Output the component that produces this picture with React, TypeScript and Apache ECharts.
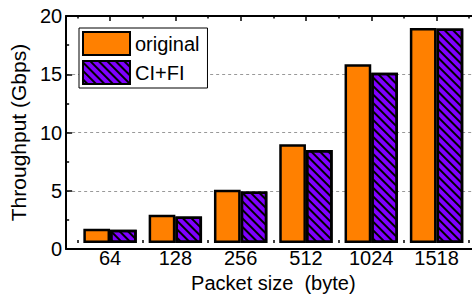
import React, { useEffect, useRef } from "react";
import * as echarts from "echarts";

const categories = ["64", "128", "256", "512", "1024", "1518"];
const originalValues = [1.27, 2.5, 4.7, 8.7, 15.75, 18.95];
const cifiValues = [1.18, 2.35, 4.55, 8.2, 15.0, 18.9];
const seriesNames = ["original", "CI+FI"];
const yTicks = { min: 0, max: 20, interval: 5 };

const FONT = "'Liberation Sans', Arial, sans-serif";

export default function App() {
  const ref = useRef<HTMLDivElement>(null);
  useEffect(() => {
    if (!ref.current) return;
    document.body.style.margin = "0";
    const chart = echarts.init(ref.current, null, { renderer: "svg" });
    const lineStyle = { color: "#000", width: 2 };
    const gridTop = 16;
    const gridBottom = 49;
    const option: any = {
      animation: false,
      textStyle: { fontFamily: FONT },
      grid: [
        { left: 65, right: -9.6, top: gridTop, bottom: gridBottom },
        { left: 77.4, right: 2.8, top: gridTop, bottom: gridBottom },
      ],
      xAxis: [
        {
          gridIndex: 0, type: "value", min: 0, max: 1, position: "bottom",
          axisLine: { show: true, lineStyle }, axisTick: { show: false },
          axisLabel: { show: false }, splitLine: { show: false },
        },
        {
          gridIndex: 0, type: "value", min: 0, max: 1, position: "top",
          axisLine: { show: true, lineStyle }, axisTick: { show: false },
          axisLabel: { show: false }, splitLine: { show: false },
        },
        {
          gridIndex: 1, type: "category", data: categories, position: "bottom",
          axisLine: { show: false },
          axisTick: { show: true, inside: true, length: 3, lineStyle: { color: "#000", width: 1.5 } },
          axisLabel: { fontSize: 20, color: "#000", margin: 5, fontFamily: FONT },
          name: "Packet size  (byte)", nameLocation: "middle", nameGap: 24,
          nameTextStyle: { fontSize: 20, color: "#000", fontFamily: FONT },
        },
        {
          gridIndex: 1, type: "category", data: categories, position: "top",
          axisLine: { show: false },
          axisTick: { show: true, inside: true, length: 5, alignWithLabel: true, lineStyle: { color: "#000", width: 1.5 } },
          axisLabel: { show: false },
        },
        {
          gridIndex: 1, type: "category", data: categories, position: "top",
          axisLine: { show: false },
          axisTick: { show: true, inside: true, length: 2.5, lineStyle: { color: "#000", width: 1.5 } },
          axisLabel: { show: false },
        },
      ],
      yAxis: [
        {
          gridIndex: 0, type: "value", min: yTicks.min, max: yTicks.max, interval: yTicks.interval,
          axisLine: { show: true, lineStyle },
          axisTick: { show: true, inside: true, length: 6, lineStyle: { color: "#000", width: 1.5 } },
          minorTick: { show: true, splitNumber: 2, length: 3, lineStyle: { color: "#000", width: 1.5 } },
          axisLabel: { fontSize: 20, color: "#000", margin: 4, fontFamily: FONT },
          splitLine: { show: true, lineStyle: { color: "#999", type: [3, 3], width: 1 } },
          name: "Throughput (Gbps)", nameLocation: "middle", nameGap: 35,
          nameTextStyle: { fontSize: 21, color: "#000", fontFamily: FONT },
        },
        {
          gridIndex: 1, type: "value", min: yTicks.min, max: yTicks.max, interval: yTicks.interval,
          show: false, splitLine: { show: false },
        },
      ],
      legend: {
        orient: "vertical", left: 79, top: 28,
        itemWidth: 47, itemHeight: 23, itemGap: 4,
        padding: [3, 8, 3, 3],
        borderColor: "#000", borderWidth: 1, backgroundColor: "#fff",
        icon: "rect",
        textStyle: { fontSize: 20, color: "#000", fontFamily: FONT },
        data: seriesNames,
        z: 10,
      },
      series: [
        {
          name: seriesNames[0], type: "bar", xAxisIndex: 2, yAxisIndex: 1,
          data: originalValues, barWidth: 26.7, barGap: "0%",
          itemStyle: { color: "#FF8000", borderColor: "#000", borderWidth: 2.5 },
        },
        {
          name: seriesNames[1], type: "bar", xAxisIndex: 2, yAxisIndex: 1,
          data: cifiValues, barWidth: 26.7, barGap: "0%",
          itemStyle: {
            color: "#8000FF", borderColor: "#000", borderWidth: 2.5,
            decal: {
              symbol: "rect", symbolSize: 1, color: "#000",
              dashArrayX: [1, 0], dashArrayY: [2, 3.7],
              rotation: Math.PI / 4,
            },
          },
        },
      ],
    };
    chart.setOption(option);
    return () => chart.dispose();
  }, []);
  return <div ref={ref} style={{ width: 472, height: 298 }} />;
}
